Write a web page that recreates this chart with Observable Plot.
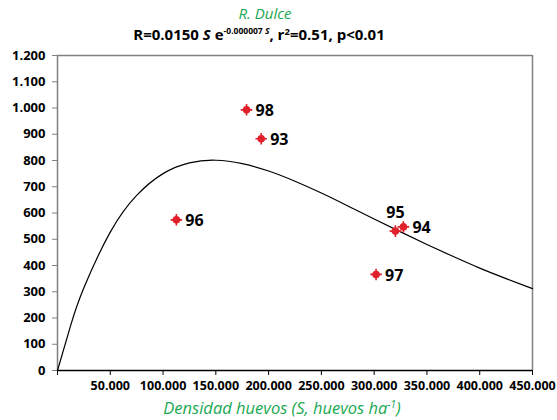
<!DOCTYPE html>
<html>
<head>
<meta charset="utf-8">
<script src="https://cdn.jsdelivr.net/npm/d3@7"></script>
<script src="https://cdn.jsdelivr.net/npm/@observablehq/plot@0.6"></script>
<style>
  html, body { margin: 0; padding: 0; background: #fff; }
  #chart svg { display: block; }
</style>
</head>
<body>
<div id="chart"></div>
<script>
// Observed points (egg density S, recruitment R, year label)
const years = ["98", "93", "96", "95", "94", "97"];
const eggDensity = [179100, 193000, 112600, 320100, 327700, 301800];
const recruits = [993, 883, 574, 531, 547, 366];

// Fitted Ricker curve
const curveS = [0, 12500, 25000, 50000, 75000, 100000, 125000, 150000, 175000, 200000,
  225000, 250000, 275000, 300000, 325000, 350000, 375000, 400000, 425000, 450000];
const curveR = [0, 172, 315, 527, 667, 750, 791, 801, 788, 760,
  721, 676, 627, 577, 528, 480, 434, 390, 350, 312];

const xTicks = [0, 50000, 100000, 150000, 200000, 250000, 300000, 350000, 400000, 450000];
const yTicks = [0, 100, 200, 300, 400, 500, 600, 700, 800, 900, 1000, 1100, 1200];

const titleText = "R. Dulce";
const xLabelText = "Densidad huevos (S, huevos ha";

const points = years.map((yr, i) => ({year: yr, S: eggDensity[i], R: recruits[i]}));
const curve = curveS.map((s, i) => ({S: s, R: curveR[i]}));

const loc = d3.formatLocale({decimal: ",", thousands: ".", grouping: [3], currency: ["", ""]});
const fmt = loc.format(",");

const FONT = "'Open Sans', sans-serif";
const GREEN = "#19a852";
const RED = "#e0202a";

const plot = Plot.plot({
  width: 557,
  height: 420,
  marginTop: 55,
  marginBottom: 50,
  marginLeft: 57,
  marginRight: 25,
  style: {fontFamily: FONT, fontSize: "13px", background: "#fff", overflow: "visible"},
  x: {domain: [0, 450000]},
  y: {domain: [0, 1200]},
  marks: [
    Plot.ruleY([1200], {stroke: "#808080", strokeWidth: 1.5}),
    Plot.ruleX([450000], {stroke: "#808080", strokeWidth: 1.5}),
    Plot.ruleX([0], {stroke: "#808080", strokeWidth: 1.5}),
    Plot.axisY({ticks: yTicks, tickSize: 5, tickPadding: 7, tickFormat: fmt, stroke: "#808080",
      fill: "#000", fontWeight: "bold", fontSize: 13, label: null}),
    Plot.axisX({ticks: xTicks, tickSize: 5, tickPadding: 6, tickFormat: d => d === 0 ? "" : fmt(d),
      stroke: "#000", fill: "#000", fontWeight: "bold", fontSize: 12.5, label: null}),
    Plot.line(curve, {x: "S", y: "R", curve: "natural", stroke: "#000", strokeWidth: 1.2}),
    Plot.ruleY([0], {stroke: "#000", strokeWidth: 1.5}),
    Plot.dot(points, {x: "S", y: "R", symbol: "plus", r: 3.8, stroke: RED, strokeWidth: 1.6}),
    Plot.dot(points, {x: "S", y: "R", r: 3.8, fill: RED}),
    Plot.text(points, {filter: d => d.year !== "95", x: "S", y: "R", text: "year", dx: 9, dy: 1,
      textAnchor: "start", fontWeight: "bold", fontSize: 16, fill: "#000"}),
    Plot.text(points, {filter: d => d.year === "95", x: "S", y: "R", text: "year", dy: -18,
      textAnchor: "middle", fontWeight: "bold", fontSize: 16, fill: "#000"})
  ]
});

document.getElementById("chart").appendChild(plot);

const svg = d3.select(plot);
// Title line 1
svg.append("text")
  .attr("x", 265).attr("y", 19)
  .attr("text-anchor", "middle")
  .attr("font-family", FONT).attr("font-size", 15).attr("font-style", "italic")
  .attr("fill", GREEN)
  .text(titleText);

// Title line 2 (equation)
const t2 = svg.append("text")
  .attr("x", 259).attr("y", 40)
  .attr("text-anchor", "middle")
  .attr("font-family", FONT).attr("font-size", 15).attr("font-weight", "bold")
  .attr("fill", "#000");
t2.append("tspan").text("R=0.0150 ");
t2.append("tspan").attr("font-style", "italic").text("S");
t2.append("tspan").text(" e");
t2.append("tspan").attr("font-size", 8.5).attr("dy", -6).text("-0.000007 ");
t2.append("tspan").attr("font-size", 8.5).attr("font-style", "italic").text("S");
t2.append("tspan").attr("dy", 6).text(", r");
t2.append("tspan").attr("font-size", 9.5).attr("dy", -5).text("2");
t2.append("tspan").attr("dy", 5).text("=0.51, p<0.01");

// X axis label
const xl = svg.append("text")
  .attr("x", 282).attr("y", 414)
  .attr("text-anchor", "middle")
  .attr("font-family", FONT).attr("font-size", 16.5).attr("font-style", "italic")
  .attr("fill", GREEN);
xl.append("tspan").text(xLabelText);
xl.append("tspan").attr("font-size", 10).attr("dy", -6).text("-1");
xl.append("tspan").attr("dy", 6).text(")");
</script>
</body>
</html>
